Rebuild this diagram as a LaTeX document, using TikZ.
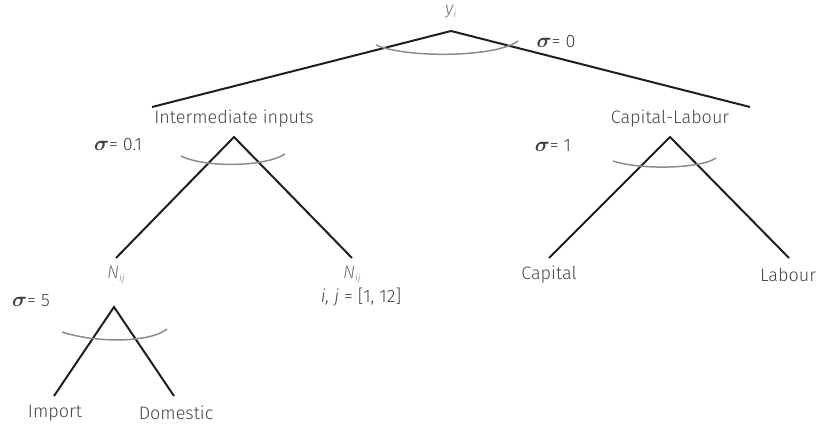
\documentclass[tikz,border=0pt]{standalone}
\usepackage{fontspec}
\setmainfont{Fira Sans}[UprightFont=* Light, ItalicFont=* Light Italic]
\usepackage{bm}
\begin{document}
\begin{tikzpicture}[x=1pt,y=-1pt,
  lab/.style={font=\fontsize{18}{20}\selectfont, text=black!72, inner sep=0pt},
  var/.style={font=\fontsize{18}{20}\selectfont\itshape, text=black!55, inner sep=0pt},
  sig/.style={font=\fontsize{18}{20}\selectfont, text=black!75, inner sep=0pt},
  branch/.style={line width=2pt, black!88},
  nest/.style={line width=1.5pt, black!45}]
\useasboundingbox (0,0) rectangle (819,430);
\newcommand{\sgm}{{\fontsize{22}{22}\selectfont$\bm\sigma$}}
\newcommand{\sbs}[1]{\textsubscript{\fontsize{10}{10}\selectfont #1}}
% top
\node[var] (y) at (451,12) {y\sbs{i}};
\coordinate (ya) at (451,31);
\node[lab] (ii) at (234,119) {Intermediate inputs};
\node[lab] (cl) at (670,119) {Capital-Labour};
\coordinate (iia) at (234,137);
\coordinate (cla) at (670,137);
\coordinate (iiend) at (152,107);
\coordinate (clend) at (750,107);
\draw[branch] (iiend) -- (ya) -- (clend);
\draw[nest] (376,45) .. controls (405,58) and (495,58) .. (518,41);
\node[sig] (s0) at (556,42) {\sgm= 0};
% intermediate
\node[var] (n1) at (116,275) {N\sbs{ij}};
\node[var] (n2) at (352,275) {N\sbs{ij}};
\node[lab, font=\fontsize{18}{20}\selectfont\itshape] (ij) at (361,297) {i, j {\upshape = [1, 12]}};
\coordinate (n1t) at (116,258);
\coordinate (n2t) at (352,258);
\draw[branch] (n1t) -- (iia) -- (n2t);
\draw[nest] (181,156) .. controls (205,168) and (265,167) .. (285,154);
\node[sig] (s01) at (118,145) {\sgm= 0.1};
% capital-labour
\node[lab] (cap) at (549,275) {Capital};
\node[lab] (lab) at (788,275) {Labour};
\coordinate (capt) at (549,258);
\coordinate (labt) at (789,258);
\draw[branch] (capt) -- (cla) -- (labt);
\draw[nest] (613,161) .. controls (640,170) and (700,169) .. (716,158);
\node[sig] (s1) at (553,146) {\sgm= 1};
% lower nest
\coordinate (n1a) at (114,307);
\node[lab] (imp) at (55,413) {Import};
\node[lab] (dom) at (176,413) {Domestic};
\coordinate (impt) at (54,396);
\coordinate (domt) at (174,396);
\draw[branch] (impt) -- (n1a) -- (domt);
\draw[nest] (62,332) .. controls (95,343) and (150,343) .. (167,329);
\node[sig] (s5) at (31,301) {\sgm= 5};
\end{tikzpicture}
\end{document}
